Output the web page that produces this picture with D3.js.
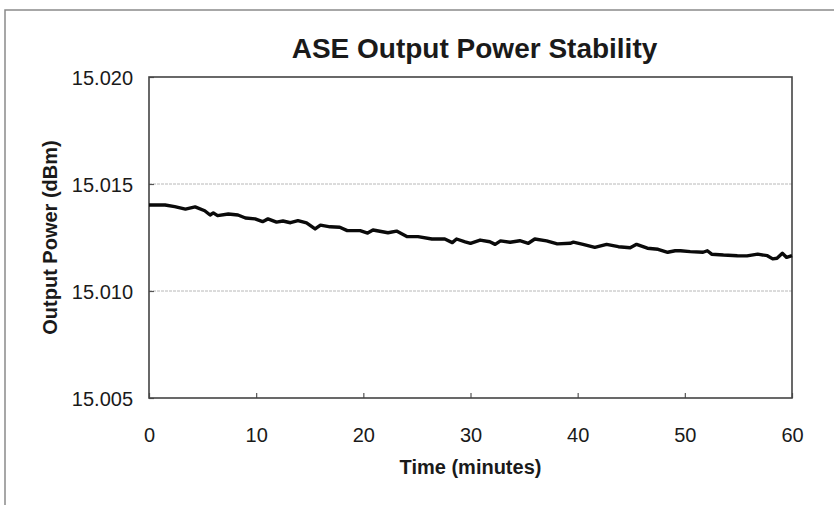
<!DOCTYPE html>
<html>
<head>
<meta charset="utf-8">
<script src="https://cdn.jsdelivr.net/npm/d3@7"></script>
<style>
  body { margin: 0; background: #fff; }
  text { font-family: "Liberation Sans", Arial, sans-serif; fill: #1a1a1a; }
</style>
</head>
<body>
<div id="chart"></div>
<script>
// time in minutes, output power in dBm
var minutes = [0, 1.5, 2.4, 3.4, 4.3, 5.2, 5.7, 6.0, 6.4, 7.4, 8.3, 9.0, 9.9, 10.6, 11.1, 11.9,
  12.5, 13.2, 13.9, 14.7, 15.5, 16.0, 16.9, 17.8, 18.5, 19.7, 20.4, 20.9, 22.3, 23.1, 24.1,
  25.1, 26.4, 27.6, 28.3, 28.7, 29.5, 30.0, 30.9, 31.8, 32.3, 32.8, 33.7, 34.6, 35.4, 36.0,
  37.1, 38.1, 39.3, 39.6, 40.5, 41.6, 42.7, 43.8, 44.9, 45.5, 46.5, 47.5, 48.4, 49.1, 49.6,
  50.5, 51.7, 52.1, 52.5, 53.6, 54.9, 55.8, 56.8, 57.7, 58.2, 58.6, 59.1, 59.5, 60.0];
var power = [15.01402, 15.01402, 15.01394, 15.01383, 15.01393, 15.01375, 15.01355, 15.01365,
  15.01352, 15.01360, 15.01355, 15.01341, 15.01337, 15.01324, 15.01337, 15.01322, 15.01327,
  15.01319, 15.01329, 15.01318, 15.01290, 15.01308, 15.01300, 15.01298, 15.01282, 15.01282,
  15.01271, 15.01285, 15.01272, 15.01280, 15.01254, 15.01254, 15.01243, 15.01243, 15.01226,
  15.01243, 15.01230, 15.01223, 15.01238, 15.01230, 15.01218, 15.01234, 15.01228, 15.01235,
  15.01223, 15.01243, 15.01234, 15.01220, 15.01223, 15.01228, 15.01218, 15.01204, 15.01218,
  15.01207, 15.01202, 15.01218, 15.01200, 15.01195, 15.01181, 15.01188, 15.01188, 15.01184,
  15.01181, 15.01188, 15.01172, 15.01168, 15.01165, 15.01164, 15.01172, 15.01165, 15.01150,
  15.01153, 15.01176, 15.01157, 15.01165];
var xTicks = [0, 10, 20, 30, 40, 50, 60];
var yTicks = [15.005, 15.010, 15.015, 15.020];

var W = 834, H = 505;
var margin = {top: 77, right: 42, bottom: 107, left: 149},
    width = W - margin.left - margin.right,
    height = H - margin.top - margin.bottom;

var root = d3.select("#chart").append("svg")
    .attr("width", W)
    .attr("height", H);

root.append("rect").attr("width", W).attr("height", H).attr("fill", "#fff");

// scanned page edge (top and left only)
root.append("path")
    .attr("d", "M5," + H + "V10H" + W)
    .attr("fill", "none")
    .attr("stroke", "#8a8a8a")
    .attr("stroke-width", 1.5);

var svg = root.append("g")
    .attr("transform", "translate(" + margin.left + "," + margin.top + ")");

var x = d3.scaleLinear().domain([0, 60]).range([0, width]);
var y = d3.scaleLinear().domain([15.005, 15.020]).range([height, 0]);

// gridlines
svg.append("g")
    .selectAll("line")
    .data(yTicks.slice(1, 3))
    .enter().append("line")
    .attr("x1", 0).attr("x2", width)
    .attr("y1", d => y(d)).attr("y2", d => y(d))
    .attr("stroke", "#b8b8b8")
    .attr("stroke-width", 1)
    .attr("stroke-dasharray", "3,1");

// axes with inside ticks
var xAxis = svg.append("g")
    .attr("transform", "translate(0," + height + ")")
    .call(d3.axisBottom(x).tickValues(xTicks).tickSizeInner(-5).tickSizeOuter(0).tickPadding(30));
var yAxis = svg.append("g")
    .call(d3.axisLeft(y).tickValues(yTicks).tickFormat(d3.format(".3f")).tickSizeInner(-5).tickSizeOuter(0).tickPadding(16));

[xAxis, yAxis].forEach(function(a) {
  a.select(".domain").remove();
  a.selectAll(".tick line").attr("stroke", "#555").attr("stroke-width", 1.2);
  a.selectAll(".tick text")
      .style("font-size", "20px")
      .attr("fill", "#1a1a1a");
});
yAxis.selectAll(".tick text").attr("dy", "0.36em");

// plot frame
svg.append("rect")
    .attr("width", width)
    .attr("height", height)
    .attr("fill", "none")
    .attr("stroke", "#444")
    .attr("stroke-width", 1.6);

// data line
var line = d3.line()
    .x((d, i) => x(minutes[i]))
    .y(d => y(d));

svg.append("path")
    .datum(power)
    .attr("fill", "none")
    .attr("stroke", "#0a0a0a")
    .attr("stroke-width", 3.4)
    .attr("stroke-linejoin", "round")
    .attr("d", line);

// title
svg.append("text")
    .attr("x", width / 2 + 4)
    .attr("y", -19)
    .attr("text-anchor", "middle")
    .style("font-size", "28px")
    .style("font-weight", "bold")
    .text("ASE Output Power Stability");

// axis labels
svg.append("text")
    .attr("text-anchor", "middle")
    .attr("x", width / 2)
    .attr("y", height + 76)
    .style("font-size", "20px")
    .style("font-weight", "bold")
    .text("Time (minutes)");

svg.append("text")
    .attr("text-anchor", "middle")
    .attr("transform", "rotate(-90)")
    .attr("x", -height / 2)
    .attr("y", -92)
    .style("font-size", "20px")
    .style("font-weight", "bold")
    .text("Output Power (dBm)");
</script>
</body>
</html>
